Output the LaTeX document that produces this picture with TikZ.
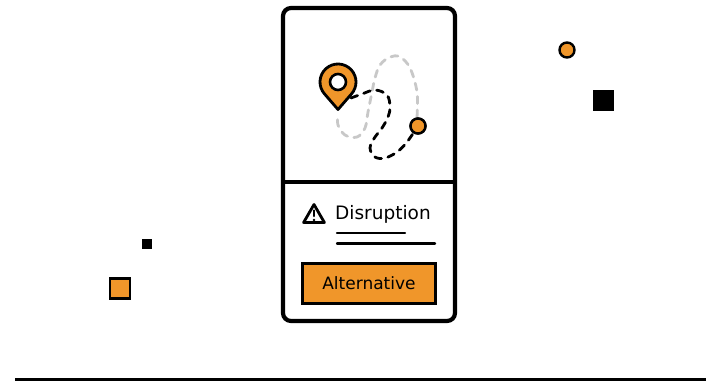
\documentclass[tikz,border=0pt]{standalone}
\usepackage{fontspec}
\setmainfont{DejaVu Sans}
\usetikzlibrary{calc,shapes.geometric}
\definecolor{accent}{RGB}{240,150,42}
\definecolor{trail}{RGB}{200,200,200}
\tikzset{
  x=1pt, y=-1pt,
  card/.style={draw=black, line width=4.2pt, rounded corners=8pt},
  route/.style={line width=2.8pt, dash pattern=on 7pt off 6.5pt, line cap=round},
  rule/.style={line width=2.4pt, line cap=round},
  orangebox/.style={draw=black, fill=accent, line width=2.4pt},
  dotnode/.style={circle, draw=black, fill=accent, line width=2.4pt, inner sep=0pt},
}
\begin{document}
\begin{tikzpicture}
\useasboundingbox (0,0) rectangle (706,383);

% phone card
\draw[card] (283,8) rectangle (455,321);
\draw[line width=3.2pt] (283,182) -- (455,182);

% previous route (grey)
\draw[route, trail] plot[smooth, tension=0.6] coordinates {
  (417,117) (417,92) (410,68) (400,57) (390,57) (380,65) (375,78)
  (372,92) (368,112) (365,128) (357,137) (345,135) (338,125) (338,116)};

% location pin and destination
\coordinate (pin) at (338,82);
\coordinate (pinout) at (351,98);
\node[dotnode, minimum size=15pt] (dest) at (418,126) {};

% new route (black)
\draw[route, black] plot[smooth, tension=0.6] coordinates {
  (pinout) (362,94) (375,90) (387,95) (390,107) (388,117) (382,128)
  (375,137) (370,148) (375,157) (385,158) (397,152) (407,142) (dest)};
\node[dotnode, minimum size=15pt] at (dest) {};

\draw[line width=2.8pt, fill=accent, line join=round]
  (338,109.5) -- ($(pin)+(138:18)$) arc[start angle=138, end angle=402, radius=18] -- cycle;
\draw[line width=2.6pt, fill=white] (pin) circle[radius=8];

% warning row
\node[draw=black, line width=2.8pt, line join=round, regular polygon, regular polygon sides=3, minimum size=24pt, inner sep=0pt] (warn) at (314,216.5) {};
\draw[line width=2.4pt, line cap=round] (314,210.5) -- (314,216);
\fill (314,220) circle[radius=1.4];
\node[anchor=west, inner sep=0pt, font=\fontsize{18.5}{20}\selectfont] (title) at (335,214) {Disruption};
\draw[rule] (337,233) -- (405,233);
\draw[rule] (337,243.5) -- (435,243.5);

% action button
\node[orangebox, minimum width=133pt, minimum height=40pt, inner sep=0pt, font=\fontsize{17}{18}\selectfont] (alt) at (369,283.5) {Alternative};

% scattered shapes
\node[dotnode, minimum size=15pt] (dotA) at (567,50) {};
\node[fill=black, minimum size=21pt, inner sep=0pt] (sqA) at (603.5,100) {};
\node[fill=black, minimum size=10pt, inner sep=0pt] (sqB) at (146.5,244) {};
\node[orangebox, minimum size=20pt, inner sep=0pt] (sqC) at (120,288.5) {};

% ground line
\draw[line width=3pt] (15,379) -- (706,379);
\end{tikzpicture}
\end{document}
